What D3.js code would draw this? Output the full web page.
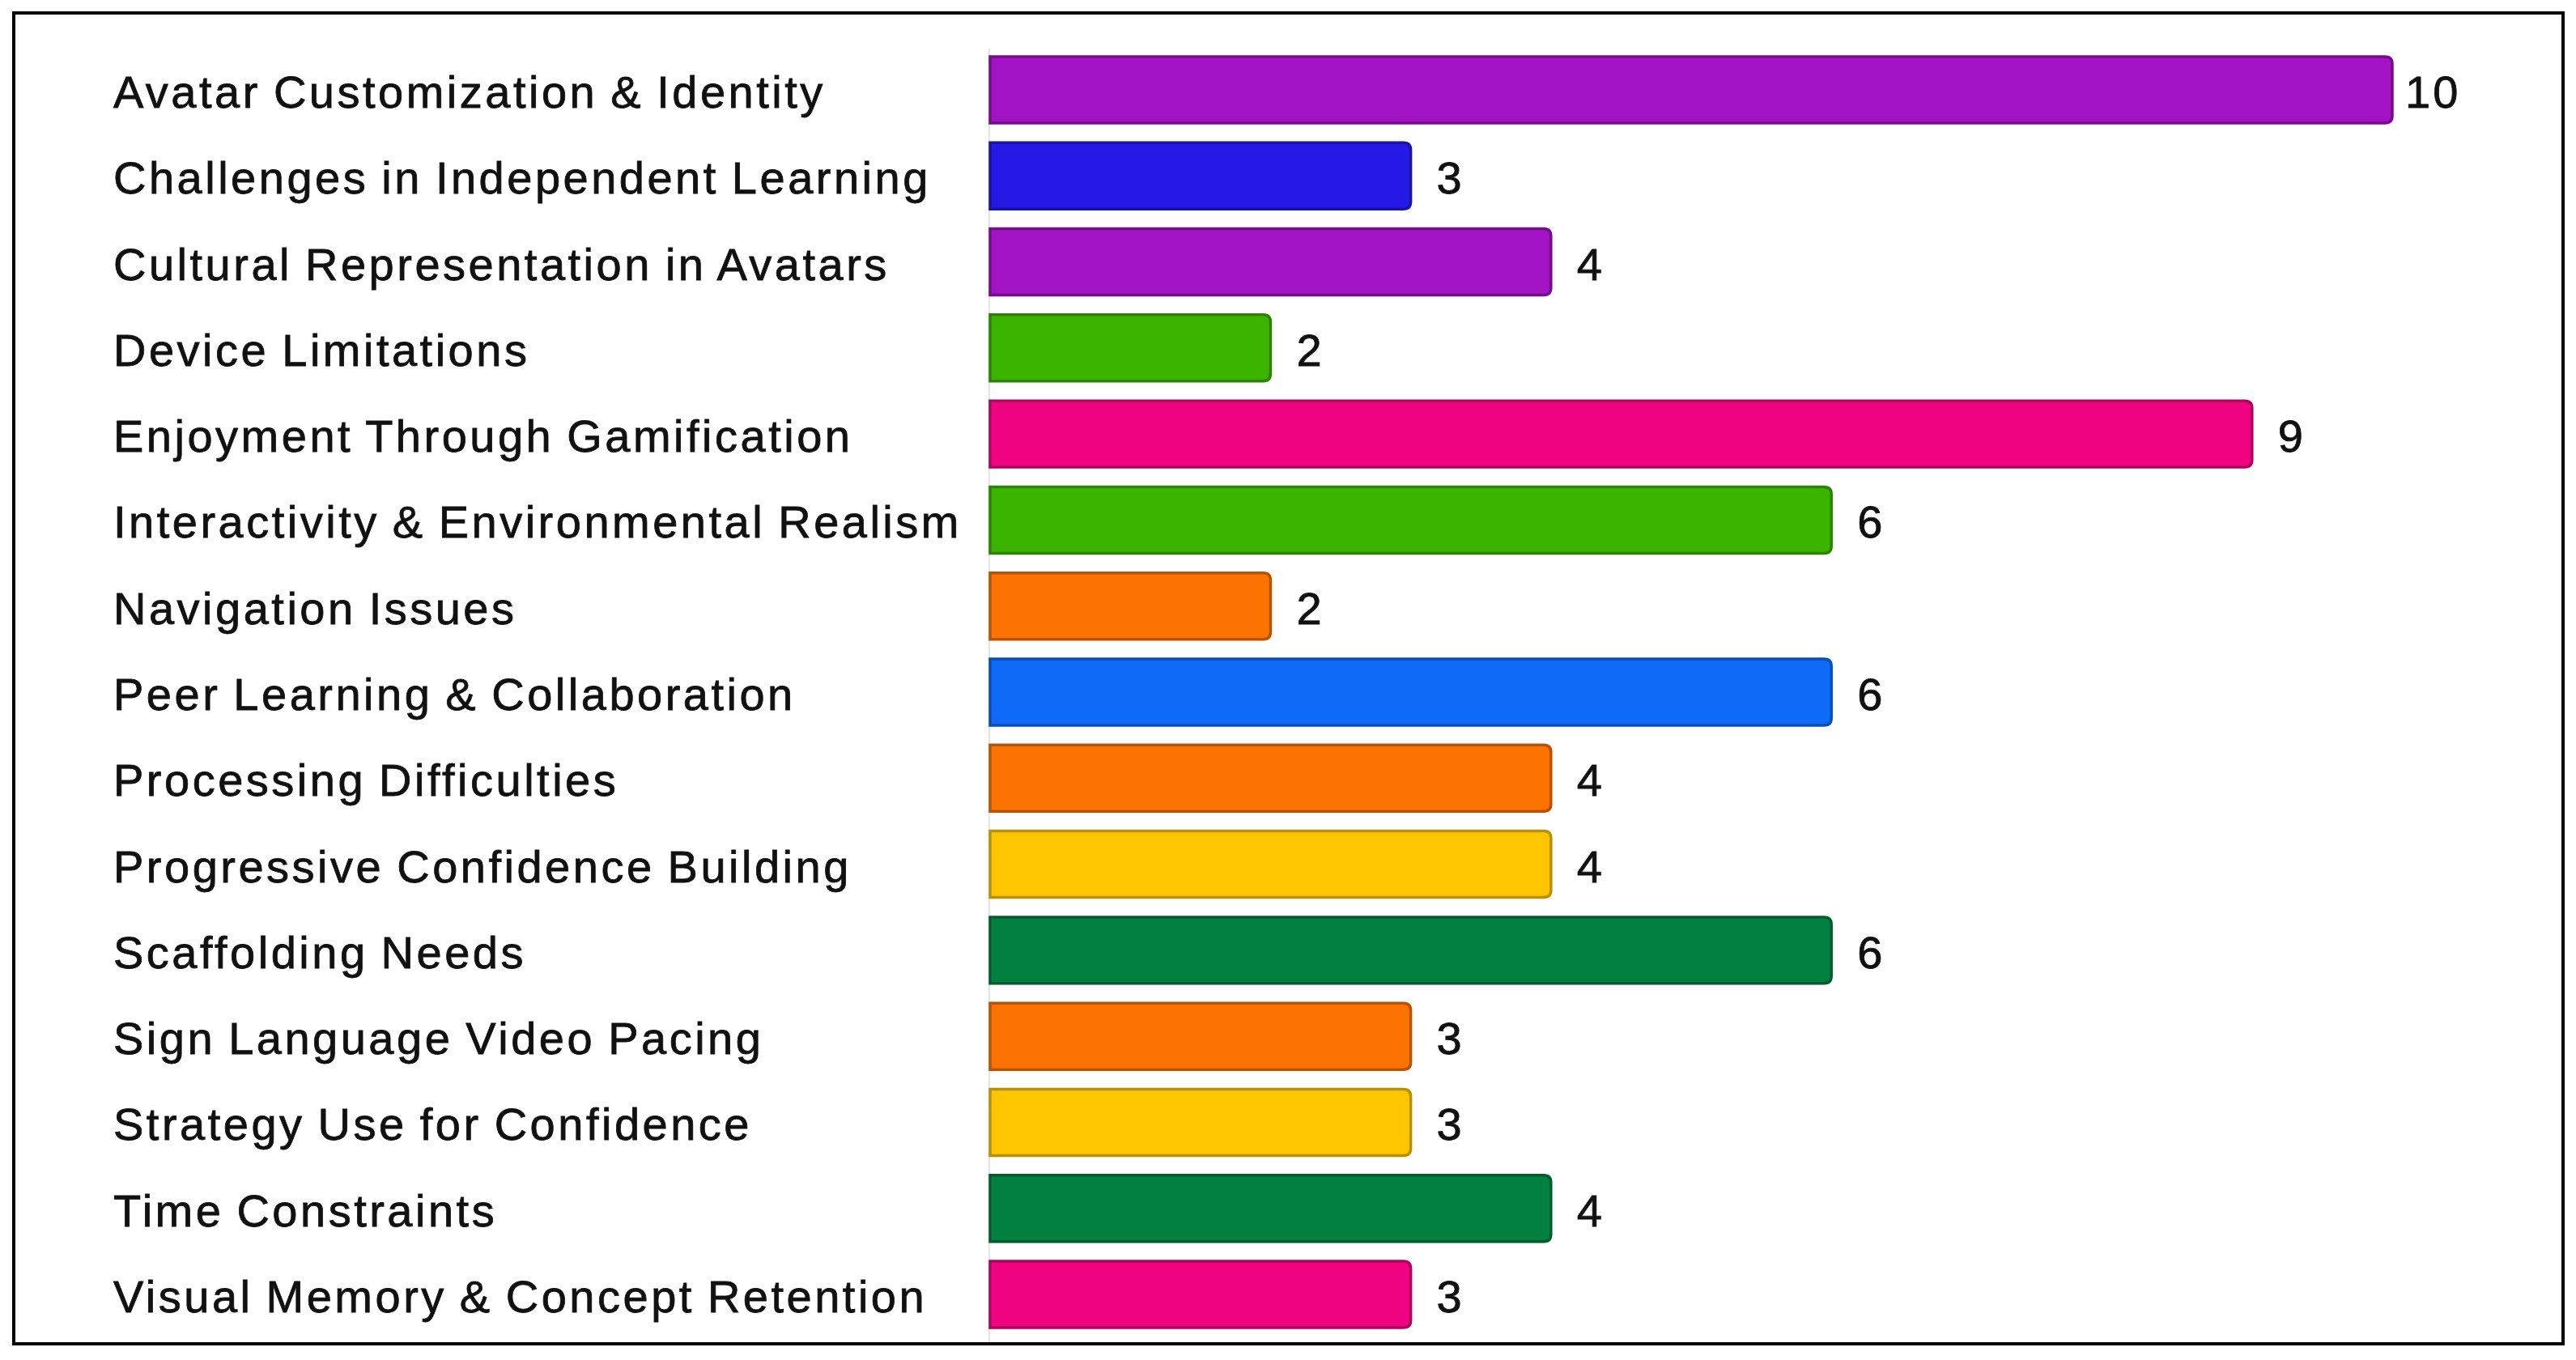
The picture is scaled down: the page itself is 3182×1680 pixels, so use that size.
<!DOCTYPE html>
<html>
<head>
<meta charset="utf-8">
<script src="https://cdn.jsdelivr.net/npm/d3@7"></script>
<style>
  html, body { margin: 0; padding: 0; background: #fff; }
  .label { font-family: "Liberation Sans", Arial, sans-serif; font-size: 56px; letter-spacing: 3.5px; word-spacing: -3px; fill: #111; stroke: #111; stroke-width: 0.8px; }
  .value { font-family: "Liberation Sans", Arial, sans-serif; font-size: 56px; letter-spacing: 3px; fill: #111; stroke: #111; stroke-width: 0.8px; }
</style>
</head>
<body>
<div id="chart"></div>
<script>
// themes, in chart order (top to bottom)
const themes = [
  "Avatar Customization & Identity",
  "Challenges in Independent Learning",
  "Cultural Representation in Avatars",
  "Device Limitations",
  "Enjoyment Through Gamification",
  "Interactivity & Environmental Realism",
  "Navigation Issues",
  "Peer Learning & Collaboration",
  "Processing Difficulties",
  "Progressive Confidence Building",
  "Scaffolding Needs",
  "Sign Language Video Pacing",
  "Strategy Use for Confidence",
  "Time Constraints",
  "Visual Memory & Concept Retention"
];
const counts = [10, 3, 4, 2, 9, 6, 2, 6, 4, 4, 6, 3, 3, 4, 3];
const barColors = [
  "#a113c3", "#2519e5", "#a113c3", "#3bb400", "#ef0381",
  "#3bb400", "#fd7302", "#0f6bf7", "#fd7302", "#fec601",
  "#01803f", "#fd7302", "#fec601", "#01803f", "#ef0381"
];

const width = 3182, height = 1680;
const svg = d3.select("#chart").append("svg")
    .attr("width", width)
    .attr("height", height);

// frame
svg.append("rect")
    .attr("x", 17).attr("y", 16)
    .attr("width", 3149).attr("height", 1644)
    .attr("fill", "#fff")
    .attr("stroke", "#000")
    .attr("stroke-width", 4);

const x = d3.scaleLinear().domain([0, 10]).range([1223, 2955]);
const y = d3.scaleBand()
    .domain(themes)
    .range([57.8, 1652.2])
    .paddingInner(0.229)
    .paddingOuter(0.1145);

// faint baseline
svg.append("line")
    .attr("x1", x(0) - 1).attr("x2", x(0) - 1)
    .attr("y1", 60).attr("y2", 1658)
    .attr("stroke", "#e4e4e4")
    .attr("stroke-width", 2);

const data = themes.map((t, i) => ({ theme: t, count: counts[i], color: barColors[i] }));

// bar with rounded right corners only
function barPath(d) {
  const x0 = x(0), x1 = x(d.count), y0 = y(d.theme), h = y.bandwidth(), r = 9;
  return `M${x0},${y0} H${x1 - r} Q${x1},${y0} ${x1},${y0 + r} V${y0 + h - r} Q${x1},${y0 + h} ${x1 - r},${y0 + h} H${x0} Z`;
}

svg.selectAll("path.bar")
    .data(data)
    .enter()
    .append("path")
    .attr("class", "bar")
    .attr("d", barPath)
    .attr("fill", d => d.color)
    .attr("stroke", d => d3.color(d.color).darker(0.9))
    .attr("stroke-width", 3.5);

svg.selectAll("text.label")
    .data(data)
    .enter()
    .append("text")
    .attr("class", "label")
    .attr("x", 140)
    .attr("y", d => y(d.theme) + y.bandwidth() / 2 + 22)
    .text(d => d.theme);

svg.selectAll("text.value")
    .data(data)
    .enter()
    .append("text")
    .attr("class", "value")
    .attr("x", d => x(d.count) + (d.count >= 10 ? 16 : 32))
    .attr("y", d => y(d.theme) + y.bandwidth() / 2 + 22)
    .text(d => d.count);
</script>
</body>
</html>
